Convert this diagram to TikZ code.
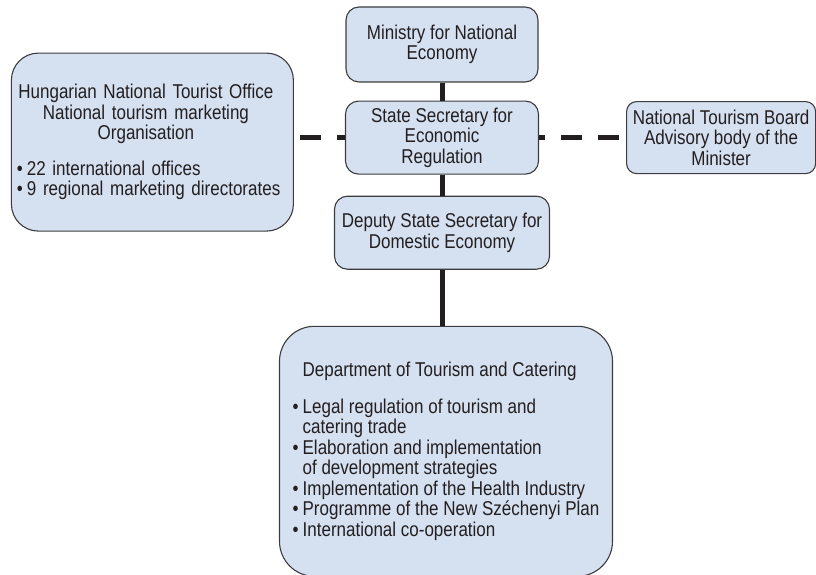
\documentclass[tikz,border=0pt]{standalone}
\usepackage{fontspec}
\setmainfont[FakeStretch=0.85]{Liberation Sans}
\usepackage{xcolor}
\usetikzlibrary{positioning}
\definecolor{boxfill}{RGB}{213,224,240}
\definecolor{boxline}{RGB}{60,60,62}
\definecolor{inkgray}{RGB}{35,31,32}
\tikzset{
  orgblk/.style={draw=boxline,fill=boxfill,line width=1.1pt,rounded corners=13pt,inner sep=0pt,align=center,text=inkgray,font=\fontsize{20}{20.5}\selectfont},
  listblk/.style={orgblk,align=left},
  solidlink/.style={draw=inkgray,line width=5pt},
  dashlink/.style={solidlink,dash pattern=on 21pt off 16pt}
}
\newcommand{\itm}{\makebox[10pt][l]{\textbullet}}
\newcommand{\hng}{\hspace*{10pt}}

\begin{document}
\begin{tikzpicture}[x=1pt,y=-1pt,node distance=18pt and 51pt]
  \useasboundingbox (0,0) rectangle (816,575);
  \node[orgblk,minimum width=192pt,minimum height=75pt] (min) at (442,44.5) {Ministry for National\\Economy};
  \node[orgblk,minimum width=193pt,minimum height=73pt,below=18pt of min] (sec) {State Secretary for\\Economic\\Regulation};
  \node[orgblk,minimum width=215pt,minimum height=73pt,below=21pt of sec] (dep) {Deputy State Secretary for\\Domestic Economy};
  \node[listblk,rounded corners=35pt,minimum width=333pt,minimum height=250pt,below=56pt of dep,xshift=4pt] (dtc) {\hng Department of Tourism and Catering\\[16pt]
    \itm Legal regulation of tourism and\\
    \hng catering trade\\
    \itm Elaboration and implementation\\
    \hng of development strategies\\
    \itm Implementation of the Health Industry\\
    \itm Programme of the New Széchenyi Plan\\
    \itm International co-operation};

  \node[listblk,rounded corners=27pt,minimum width=282pt,minimum height=178pt,text width=271pt,left=51pt of sec,yshift=-4.5pt] (hnto) {{\centering\addtolength{\leftskip}{-13pt}Hungarian National Tourist Office\\National tourism marketing\\Organisation\par}\vspace{15pt}
    \itm 22 international offices\\
    \itm 9 regional marketing directorates};
  \node[orgblk,rounded corners=10pt,minimum width=189pt,minimum height=72pt,right=87pt of sec] (ntb) {National Tourism Board\\Advisory body of the\\Minister};

  % reporting lines
  \foreach \a/\b in {min/sec, sec/dep}
    \draw[solidlink] (\a)--(\b);
  \draw[solidlink] (dep.south) -- (dep.south |- dtc.north);
  % advisory links
  \draw[dashlink,dash phase=31pt] (sec.west -| hnto.east) -- (sec.west);
  \draw[dashlink,dash phase=15pt] (sec.east) -- (sec.east -| ntb.west);
\end{tikzpicture}
\end{document}
